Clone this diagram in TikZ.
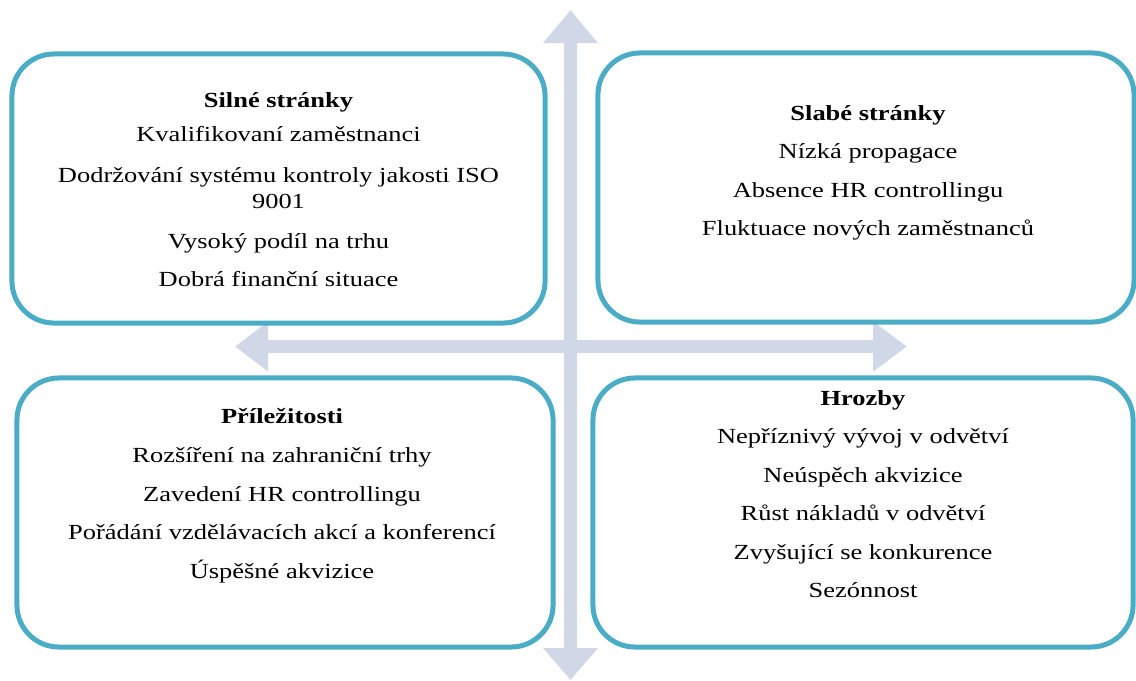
\documentclass[tikz,border=0pt]{standalone}
\usepackage{fontspec}
\setmainfont{Liberation Serif}[FakeStretch=1.23]
\usetikzlibrary{arrows.meta}
\definecolor{swotline}{RGB}{75,172,198}
\definecolor{swotaxis}{RGB}{208,216,232}
\tikzset{>=Triangle,
  swotbox/.style={draw=swotline, line width=3.56pt, rounded corners=1.05cm,
    inner sep=0pt, outer sep=0pt, minimum height=6.725cm},
  swottext/.style={anchor=north, align=center, inner sep=0pt,
    font=\fontsize{15.3}{17.8}\selectfont},
  vaxis/.style={swotaxis, line width=0.325cm,
    {Triangle[width=1.325cm,length=0.83cm]}-{Triangle[width=1.325cm,length=0.8cm]}},
  haxis/.style={swotaxis, line width=0.325cm,
    {Triangle[width=1.2cm,length=0.83cm]}-{Triangle[width=1.2cm,length=0.85cm]}}}

\begin{document}
\begin{tikzpicture}[x=0.025cm,y=-0.025cm]
    \useasboundingbox (0,0) rectangle (1136,680);
    % axes
    \coordinate (ytop) at (570.5,10);
    \coordinate (ybot) at (570.5,680);
    \coordinate (xleft) at (235,346.5);
    \coordinate (xright) at (907,346.5);
    \draw[vaxis] (ytop) -- (ybot);
    \draw[haxis] (xleft) -- (xright);
    % quadrants
    \node[swotbox, minimum width=13.325cm] (sbox) at (278.5,188.5) {};
    \node[swotbox, minimum width=13.4cm] (wbox) at (866,187.5) {};
    \node[swotbox, minimum width=13.4cm] (obox) at (285,512.5) {};
    \node[swotbox, minimum width=13.5cm] (tbox) at (863,512.5) {};
    \node[swottext] (stext) at (278.5,92) {\textbf{Silné stránky}\\[6.4pt]
      Kvalifikovaní zaměstnanci\\[11.5pt]
      Dodržování systému kontroly jakosti ISO\\[1pt]
      9001\\[10.3pt]
      Vysoký podíl na trhu\\[9.6pt]
      Dobrá finanční situace};
    \node[swottext] (wtext) at (868,105) {\textbf{Slabé stránky}\\[9.6pt]
      Nízká propagace\\[9.6pt]
      Absence HR controllingu\\[9.6pt]
      Fluktuace nových zaměstnanců};
    \node[swottext] (otext) at (282,408.5) {\textbf{Příležitosti}\\[9.6pt]
      Rozšíření na zahraniční trhy\\[9.6pt]
      Zavedení HR controllingu\\[9.6pt]
      Pořádání vzdělávacích akcí a konferencí\\[9.6pt]
      Úspěšné akvizice};
    \node[swottext] (ttext) at (863,390) {\textbf{Hrozby}\\[9.6pt]
      Nepříznivý vývoj v odvětví\\[9.6pt]
      Neúspěch akvizice\\[9.6pt]
      Růst nákladů v odvětví\\[9.6pt]
      Zvyšující se konkurence\\[9.6pt]
      Sezónnost};
\end{tikzpicture}
\end{document}
